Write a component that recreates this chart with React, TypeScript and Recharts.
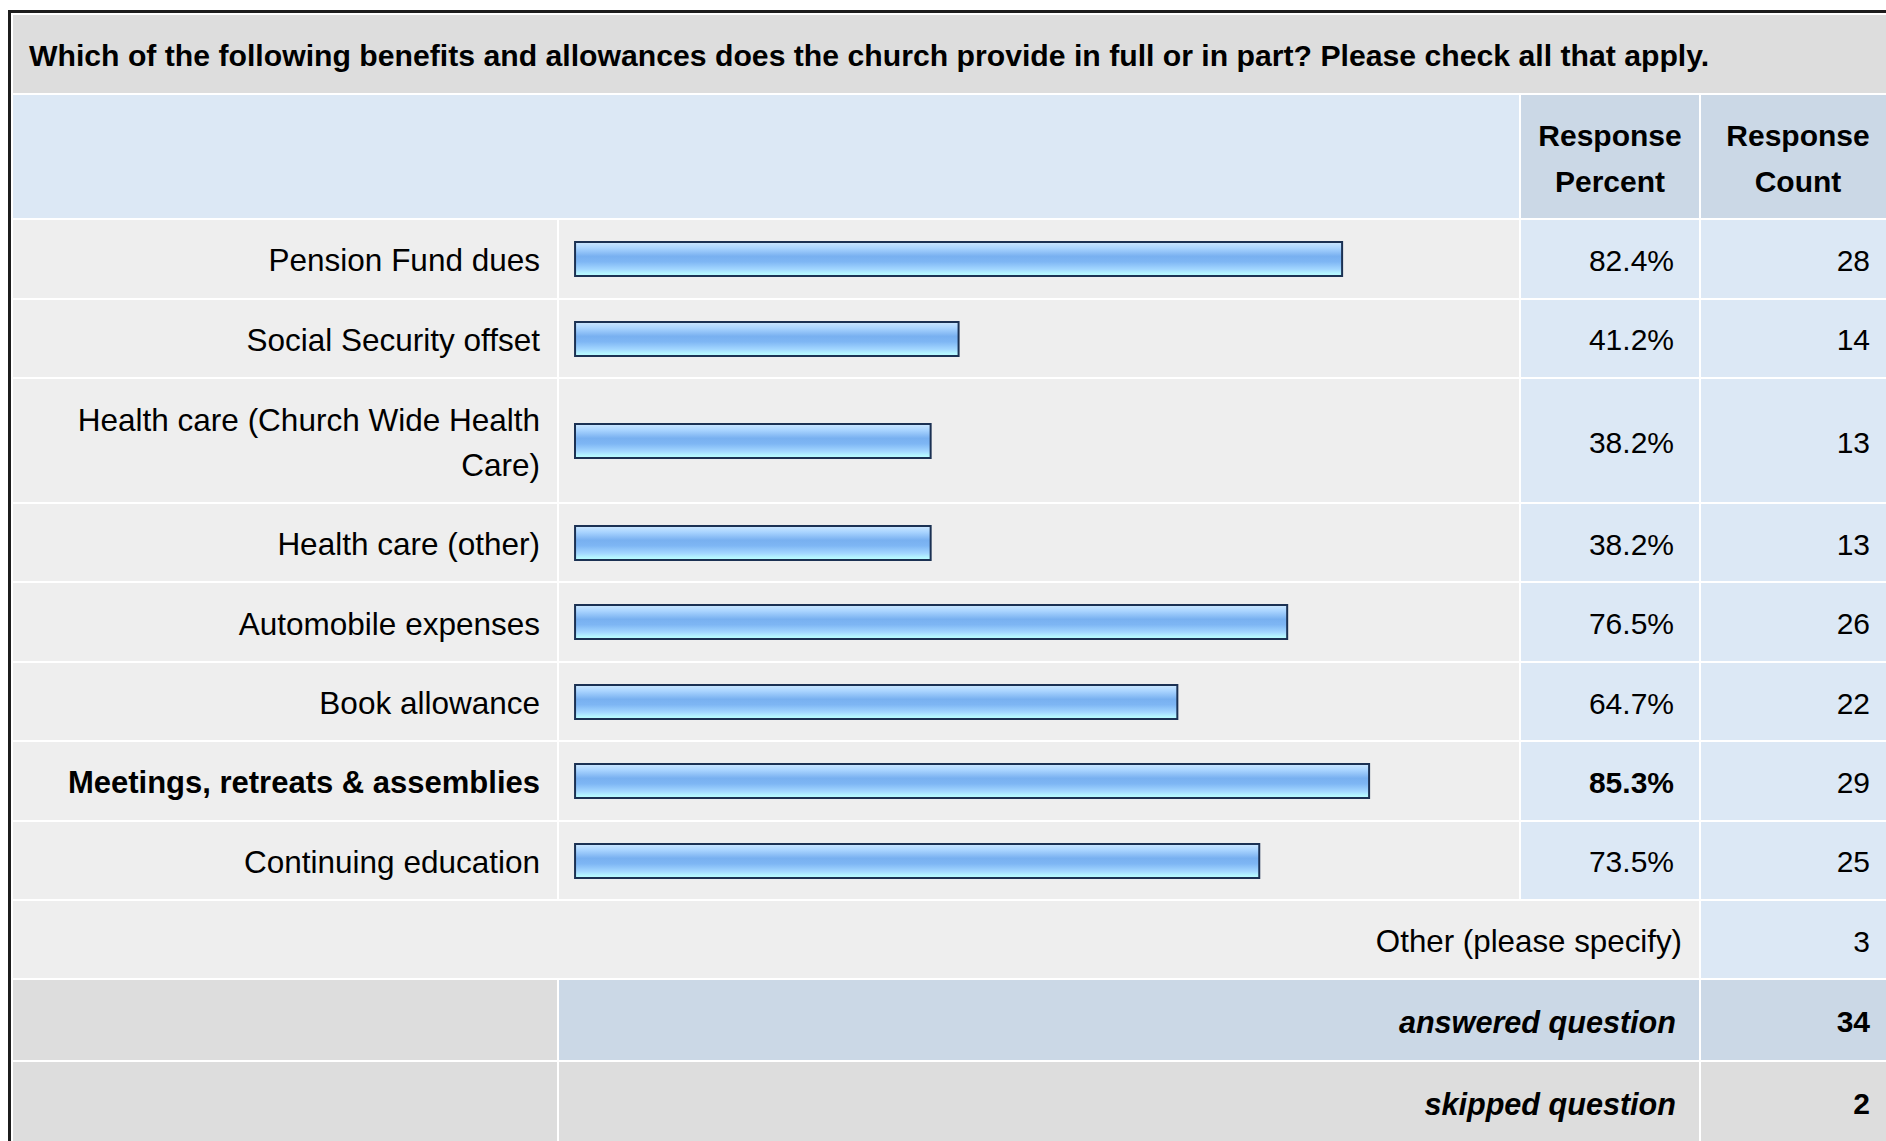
import React from "react";
import { BarChart, Bar, XAxis, YAxis } from "recharts";

const title =
  "Which of the following benefits and allowances does the church provide in full or in part? Please check all that apply.";

const categories = [
  "Pension Fund dues",
  "Social Security offset",
  "Health care (Church Wide Health Care)",
  "Health care (other)",
  "Automobile expenses",
  "Book allowance",
  "Meetings, retreats & assemblies",
  "Continuing education",
];
const percents = [82.4, 41.2, 38.2, 38.2, 76.5, 64.7, 85.3, 73.5];
const counts = [28, 14, 13, 13, 26, 22, 29, 25];

const otherLabel = "Other (please specify)";
const otherCount = 3;
const answeredCount = 34;
const skippedCount = 2;

const FONT = '"Liberation Sans", Arial, Helvetica, sans-serif';
const GRAY = "#dddddd";
const LIGHT = "#eeeeee";
const BLUE = "#dce8f5";
const BLUE_DARK = "#cbd8e6";

// row heights: normal rows and the one that wraps onto two lines
const rowHeight = (label: string) => (label.length > 32 ? 123 : 77.4);

function BarCell({ label, value, idx, height }: { label: string; value: number; idx: number; height: number }) {
  const gid = `barGrad${idx}`;
  return (
    <BarChart
      layout="vertical"
      width={960}
      height={height}
      data={[{ label, value }]}
      margin={{ top: 0, right: 13, bottom: 0, left: 16 }}
    >
      <defs>
        <linearGradient id={gid} x1="0" y1="0" x2="0" y2="1">
          <stop offset="0%" stopColor="#cde8ff" />
          <stop offset="18%" stopColor="#a9d4ff" />
          <stop offset="42%" stopColor="#78b0f0" />
          <stop offset="58%" stopColor="#7eb6f4" />
          <stop offset="80%" stopColor="#a2d6ff" />
          <stop offset="92%" stopColor="#b4f4ff" />
          <stop offset="100%" stopColor="#b8ffff" />
        </linearGradient>
      </defs>
      <XAxis type="number" domain={[0, 100]} hide />
      <YAxis type="category" dataKey="label" hide />
      <Bar
        dataKey="value"
        barSize={34}
        fill={`url(#${gid})`}
        stroke="#1b3153"
        strokeWidth={2}
        isAnimationActive={false}
      />
    </BarChart>
  );
}

const cell = (bg: string, extra: React.CSSProperties = {}): React.CSSProperties => ({
  background: bg,
  display: "flex",
  alignItems: "center",
  boxSizing: "border-box",
  ...extra,
});

export default function App() {
  const maxPct = Math.max(...percents);
  const rows = ["78px", "123.3px", ...categories.map((c) => `${rowHeight(c)}px`), "77.4px", "80px", "80px"];

  return (
    <div
      style={{
        position: "fixed",
        inset: 0,
        overflow: "hidden",
        background: "#fff",
        fontFamily: FONT,
        color: "#000",
      }}
    >
      <div
        style={{
          position: "absolute",
          left: 8,
          top: 10,
          width: 1960,
          height: 1200,
          border: "3px solid #1c1c1c",
          padding: 2,
          boxSizing: "border-box",
        }}
      >
        <div
          style={{
            display: "grid",
            gridTemplateColumns: "544px 960px 178px 194px",
            gridTemplateRows: rows.join(" "),
            columnGap: 2,
            rowGap: 2,
          }}
        >
          {/* title */}
          <div
            style={cell(GRAY, {
              gridColumn: "1 / span 4",
              paddingLeft: 16,
              paddingTop: 4,
              fontWeight: "bold",
              fontSize: 30.2,
            })}
          >
            {title}
          </div>

          {/* header */}
          <div style={cell(BLUE, { gridColumn: "1 / span 2" })} />
          {["Response Percent", "Response Count"].map((h) => (
            <div
              key={h}
              style={cell(BLUE_DARK, {
                justifyContent: "center",
                textAlign: "center",
                fontWeight: "bold",
                fontSize: 30,
                lineHeight: "46px",
                paddingTop: 5,
              })}
            >
              <span>
                {h.split(" ")[0]}
                <br />
                {h.split(" ")[1]}
              </span>
            </div>
          ))}

          {/* data rows */}
          {categories.map((c, i) => {
            const bold = percents[i] === maxPct;
            const h = rowHeight(c);
            return (
              <React.Fragment key={c}>
                <div
                  style={cell(LIGHT, {
                    justifyContent: "flex-end",
                    textAlign: "right",
                    paddingLeft: 20,
                    paddingRight: 17,
                    paddingTop: 4,
                    fontSize: bold ? 31 : 31.5,
                    lineHeight: "45px",
                    fontWeight: bold ? "bold" : "normal",
                  })}
                >
                  {c}
                </div>
                <div style={cell(LIGHT)}>
                  <BarCell label={c} value={percents[i]} idx={i} height={h} />
                </div>
                <div
                  style={cell(BLUE, {
                    justifyContent: "flex-end",
                    paddingRight: 25,
                    paddingTop: 4,
                    fontSize: 30,
                    fontWeight: bold ? "bold" : "normal",
                  })}
                >
                  {percents[i].toFixed(1)}%
                </div>
                <div
                  style={cell(BLUE, { justifyContent: "flex-end", paddingRight: 25, paddingTop: 4, fontSize: 30 })}
                >
                  {counts[i]}
                </div>
              </React.Fragment>
            );
          })}

          {/* other */}
          <div
            style={cell(LIGHT, {
              gridColumn: "1 / span 3",
              justifyContent: "flex-end",
              paddingRight: 17,
              paddingTop: 4,
              fontSize: 31.3,
            })}
          >
            {otherLabel}
          </div>
          <div style={cell(BLUE, { justifyContent: "flex-end", paddingRight: 25, paddingTop: 4, fontSize: 30 })}>
            {otherCount}
          </div>

          {/* answered */}
          <div style={cell(GRAY)} />
          <div
            style={cell(BLUE_DARK, {
              gridColumn: "2 / span 2",
              justifyContent: "flex-end",
              paddingRight: 23,
              paddingTop: 4,
              fontSize: 30.6,
              fontWeight: "bold",
              fontStyle: "italic",
            })}
          >
            answered question
          </div>
          <div
            style={cell(BLUE_DARK, {
              justifyContent: "flex-end",
              paddingRight: 25,
              paddingTop: 4,
              fontSize: 30,
              fontWeight: "bold",
            })}
          >
            {answeredCount}
          </div>

          {/* skipped */}
          <div style={cell(GRAY)} />
          <div
            style={cell(GRAY, {
              gridColumn: "2 / span 2",
              justifyContent: "flex-end",
              paddingRight: 23,
              paddingTop: 4,
              fontSize: 30.6,
              fontWeight: "bold",
              fontStyle: "italic",
            })}
          >
            skipped question
          </div>
          <div
            style={cell(GRAY, {
              justifyContent: "flex-end",
              paddingRight: 25,
              paddingTop: 4,
              fontSize: 30,
              fontWeight: "bold",
            })}
          >
            {skippedCount}
          </div>
        </div>
      </div>
    </div>
  );
}
